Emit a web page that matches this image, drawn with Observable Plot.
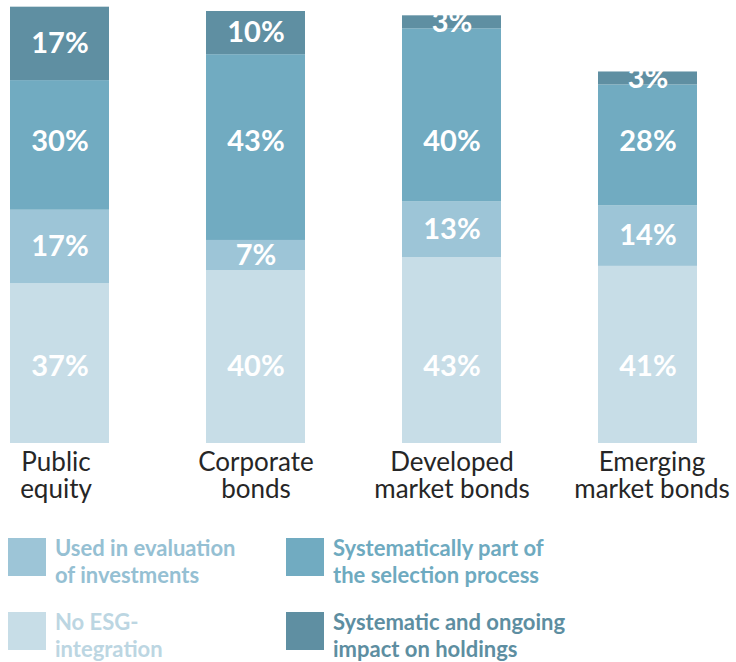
<!DOCTYPE html>
<html>
<head>
<meta charset="utf-8">
<script src="https://cdn.jsdelivr.net/npm/d3@7"></script>
<script src="https://cdn.jsdelivr.net/npm/@observablehq/plot@0.6"></script>
<style>
  body { margin: 0; background: #fff; font-family: Lato, "Open Sans", sans-serif; }
  #chart { width: 736px; height: 662px; position: relative; overflow: hidden; }
  .legend { position: absolute; left: 0; top: 538px; width: 736px; }
  .item { position: absolute; display: flex; align-items: flex-start; }
  .sw { width: 38px; height: 38px; flex: none; margin-right: 9px; }
  .lab { font-size: 22px; line-height: 27px; font-weight: 700; margin-top: -4px; }
</style>
</head>
<body>
<div id="chart"></div>
<script>
const categories = ["Public equity", "Corporate bonds", "Developed market bonds", "Emerging market bonds"];
const tickLine1 = ["Public", "Corporate", "Developed", "Emerging"];
const tickLine2 = ["equity", "bonds", "market bonds", "market bonds"];
const series = ["No ESG-integration", "Used in evaluation of investments", "Systematically part of the selection process", "Systematic and ongoing impact on holdings"];
const legendLines = [["No ESG-", "integration"], ["Used in evaluation", "of investments"], ["Systematically part of", "the selection process"], ["Systematic and ongoing", "impact on holdings"]];
const colors = ["#c7dde7", "#9dc5d7", "#71abc1", "#5f8fa2"];
const legendTextColors = ["#bcd6e2", "#95c0d3", "#6eaac0", "#5d8ea1"];
const noEsg = [37, 40, 43, 41];
const usedInEvaluation = [17, 7, 13, 14];
const systematicallyPart = [30, 43, 40, 28];
const ongoingImpact = [17, 10, 3, 3];

const valuesBySeries = [noEsg, usedInEvaluation, systematicallyPart, ongoingImpact];
const data = [];
series.forEach((s, si) => categories.forEach((c, ci) => data.push({category: c, series: s, si, value: valuesBySeries[si][ci]})));

// In the reference, the labels of the 1st and 3rd segments sit on shared horizontal lines
const fixedLabelLevel = {0: 17.8, 2: 69.9};
const aligned = data.filter(d => d.si in fixedLabelLevel);

const tickText = c => { const i = categories.indexOf(c); return tickLine1[i] + "\n" + tickLine2[i]; };
const axisStyle = {label: null, tickSize: 0, tickPadding: 9, fontSize: 26, lineHeight: 1.02, fill: "#262626", tickFormat: tickText};

const plot = Plot.plot({
  width: 736,
  height: 515,
  marginLeft: 8,
  marginRight: 38,
  marginTop: 11,
  marginBottom: 72,
  style: {fontFamily: "Lato, 'Open Sans', sans-serif", overflow: "visible"},
  x: {domain: categories, paddingInner: 0.497, paddingOuter: 0, axis: null},
  y: {domain: [0, 100], axis: null},
  color: {domain: series, range: colors},
  marks: [
    Plot.barY(data, Plot.stackY({x: "category", y: "value", fill: "series", order: series})),
    Plot.text(data, Plot.stackY({x: "category", y: "value", z: "series", order: series,
      text: d => (d.si in fixedLabelLevel) ? "" : d.value + "%", fill: "white", fontSize: 29, fontWeight: "bold"})),
    Plot.text(aligned, {x: "category", y: d => fixedLabelLevel[d.si],
      text: d => d.value + "%", fill: "white", fontSize: 29, fontWeight: "bold"}),
    Plot.axisX({...axisStyle, ticks: [categories[0]], dx: -4}),
    Plot.axisX({...axisStyle, ticks: categories.slice(1, 3)}),
    Plot.axisX({...axisStyle, ticks: [categories[3]], dx: 4})
  ]
});
document.getElementById("chart").appendChild(plot);

const legend = document.createElement("div");
legend.className = "legend";
const positions = [[8, 74], [8, 0], [286, 0], [286, 74]];
series.forEach((s, i) => {
  const item = document.createElement("div");
  item.className = "item";
  item.style.left = positions[i][0] + "px";
  item.style.top = positions[i][1] + "px";
  const sw = document.createElement("div");
  sw.className = "sw";
  sw.style.background = colors[i];
  const lab = document.createElement("div");
  lab.className = "lab";
  lab.style.color = legendTextColors[i];
  lab.innerHTML = legendLines[i].join("<br>");
  item.appendChild(sw);
  item.appendChild(lab);
  legend.appendChild(item);
});
document.getElementById("chart").appendChild(legend);
</script>
</body>
</html>
